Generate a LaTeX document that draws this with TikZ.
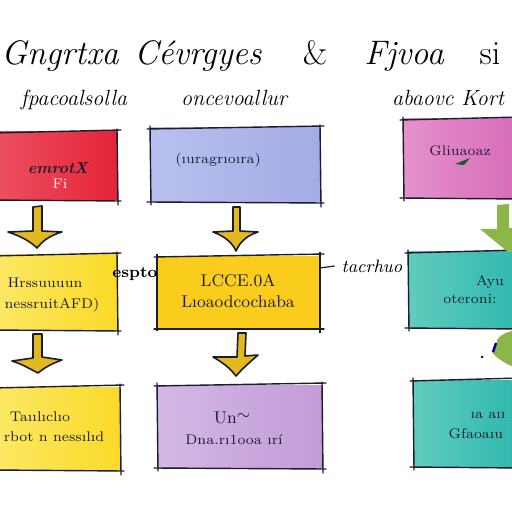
\documentclass[tikz,border=0pt]{standalone}
\usetikzlibrary{calc}
\definecolor{redc}{RGB}{230,36,56}
\definecolor{redl}{RGB}{236,80,96}
\definecolor{bluec}{RGB}{164,172,230}
\definecolor{bluel}{RGB}{184,192,238}
\definecolor{pinkc}{RGB}{216,108,186}
\definecolor{pinkl}{RGB}{228,146,204}
\definecolor{yelc}{RGB}{250,218,40}
\definecolor{yell}{RGB}{252,232,100}
\definecolor{yel2}{RGB}{250,204,28}
\definecolor{tealc}{RGB}{48,184,174}
\definecolor{teall}{RGB}{96,204,190}
\definecolor{lavc}{RGB}{194,156,216}
\definecolor{lavl}{RGB}{212,184,230}
\definecolor{goldc}{RGB}{226,186,30}
\definecolor{inkc}{RGB}{28,28,48}
\definecolor{greenc}{RGB}{140,182,72}
\newcommand\skbox[6]{%
  \shade[left color=#6l,right color=#6c,draw=none] (#2,#3) rectangle (#4,#5);
  \draw[inkc,line width=0.7pt,line cap=round] ($(#2,#3)+(-3,1)$) -- ($(#4,#3)+(4,-2)$);
  \draw[inkc,line width=0.7pt,line cap=round] ($(#2,#5)+(-3,0)$) -- ($(#4,#5)+(4,1)$);
  \draw[inkc,line width=0.7pt,line cap=round] ($(#2,#3)+(0,-2)$) -- ($(#2,#5)+(1,3)$);
  \draw[inkc,line width=0.7pt,line cap=round] ($(#4,#3)+(0,-3)$) -- ($(#4,#5)+(1,5)$);
  \coordinate (#1) at ($(#2,#3)!0.5!(#4,#5)$);
}
\tikzset{
  gold/.style={fill=goldc,draw=inkc,line width=0.8pt,line join=round},
  greenarr/.style={fill=greenc,draw=none},
  boxtxt/.style={font=\fontsize{7}{8}\selectfont,text=inkc},
  title/.style={font=\fontsize{17}{19}\selectfont\itshape,text=black,anchor=base},
  subt/.style={font=\fontsize{11}{12}\selectfont\itshape,text=black,anchor=base},
  lab/.style={font=\fontsize{9}{10}\selectfont\itshape,text=black},
}
\begin{document}
\begin{tikzpicture}[x=0.5pt,y=-0.5pt]
\useasboundingbox (0,0) rectangle (512,512);
\fill[white] (0,0) rectangle (512,512);
% titles
\node[title] (t1) at (60,65) {Gngrtxa};
\node[title] (t2) at (198,65) {C\'evrgyes};
\node[title] (t3) at (315,65) {\upshape\&};
\node[title] (t4) at (404,65) {Fjvoa};
\node[title] (t5) at (490,65) {\upshape si};
\node[subt] (s1) at (74,106) {fpacoalsolla};
\node[subt] (s2) at (234,106) {oncevoallur};
\node[subt] (s3) at (448,106) {abaovc Kort};
% row 1
\skbox{b1}{-4}{132}{117}{200}{red}
\skbox{b2}{150}{128}{320}{202}{blue}
\skbox{b3}{403}{119}{516}{198}{pink}
% row 2
\skbox{b4}{-4}{255}{117}{330}{yel}
\fill[yel2] (157,256) rectangle (320,328);
\draw[inkc,line width=0.7pt,line cap=round] (154,257) -- (324,254);
\draw[inkc,line width=0.7pt,line cap=round] (154,329) -- (324,329);
\draw[inkc,line width=0.7pt] (157,254) -- (157,331);
\draw[inkc,line width=0.7pt] (320,252) -- (320,333);
\coordinate (b5) at (238,292);
\skbox{b6}{408}{252}{516}{328}{teal}
% row 3
\skbox{b7}{-4}{387}{120}{470}{yel}
\skbox{b8}{157}{385}{322}{468}{lav}
\skbox{b9}{413}{380}{516}{467}{teal}
% box texts
\node[boxtxt,font=\fontsize{8}{9}\selectfont\itshape\bfseries] (x1) at (58,168) {emrotX};
\node[boxtxt,text=white] (x1b) at (60,184) {Fi};
\node[boxtxt] (x2) at (218,160) {(ıuragrıoıra)};
\node[boxtxt] (x3) at (460,151) {Gliuaoaz};
\fill[inkc!70!green] (455,164) -- (470,158) -- (464,165) -- cycle;
\node[boxtxt] (x4a) at (45,283) {Hrssuuuun};
\node[boxtxt] (x4b) at (52,305) {nessruitAFD)};
\node[boxtxt,font=\fontsize{8.5}{9}\selectfont] (x5a) at (238,281) {LCCE.0A};
\node[boxtxt,font=\fontsize{8.5}{9}\selectfont] (x5b) at (238,302) {Lıoaodcochaba};
\node[boxtxt] (x6a) at (490,282) {Ayu};
\node[boxtxt] (x6b) at (470,299) {oteroni:};
\node[boxtxt] (x7a) at (40,417) {Taıılıclıo};
\node[boxtxt] (x7b) at (54,437) {rbot n nessılıd};
\node[boxtxt,font=\fontsize{8.5}{9}\selectfont] (x8a) at (232,418) {Un\raisebox{2pt}{$\sim$}};
\node[boxtxt] (x8b) at (234,440) {Dna.rı1ooa ırí};
\node[boxtxt] (x9a) at (488,415) {ıa aıı};
\node[boxtxt] (x9b) at (476,434) {Gfaoaıu};
% connector labels
\node[lab,font=\fontsize{8}{9}\selectfont\bfseries] (l1) at (135,274) {espto};
\node[lab] (l2) at (372,266) {tacrhuo};
\draw[inkc,line width=0.6pt] (b5) ++(82,-24) -- (l2.west);
% gold arrows
\draw[gold] (33,207) -- (42,206) -- (42,231) -- (62,232) .. controls (48,236) and (42,242) .. (37,248) .. controls (30,241) and (20,236) .. (8,232) -- (33,231) -- cycle;
\draw[gold] (233,207) -- (240,207) -- (240,231) -- (258,232) .. controls (246,236) and (240,242) .. (236,251) .. controls (232,242) and (224,236) .. (213,232) -- (233,231) -- cycle;
\draw[gold] (33,334) -- (42,334) -- (42,357) -- (62,360) .. controls (50,364) and (43,369) .. (38,373) .. controls (30,369) and (22,364) .. (12,361) -- (33,358) -- cycle;
\draw[gold] (238,333) -- (246,333) -- (245,356) -- (258,355) .. controls (250,362) and (243,368) .. (236,376) .. controls (230,368) and (222,362) .. (213,357) -- (237,357) -- cycle;
% green arrows
\fill[greenarr] (497,205) -- (509,204) -- (509,228) -- (516,228) -- (516,252) -- (508,252) -- (480,229) -- (497,229) -- cycle;
\fill[greenarr] (497,340) .. controls (502,333) and (508,332) .. (516,330) -- (516,368) .. controls (506,364) and (496,358) .. (492,352) .. controls (496,350) and (496,345) .. (497,340) -- cycle;
\draw[blue!60!black,line width=1.2pt] (496,343) -- (493,352);
\fill[inkc] (482,357) circle (1.5);
\end{tikzpicture}
\end{document}
